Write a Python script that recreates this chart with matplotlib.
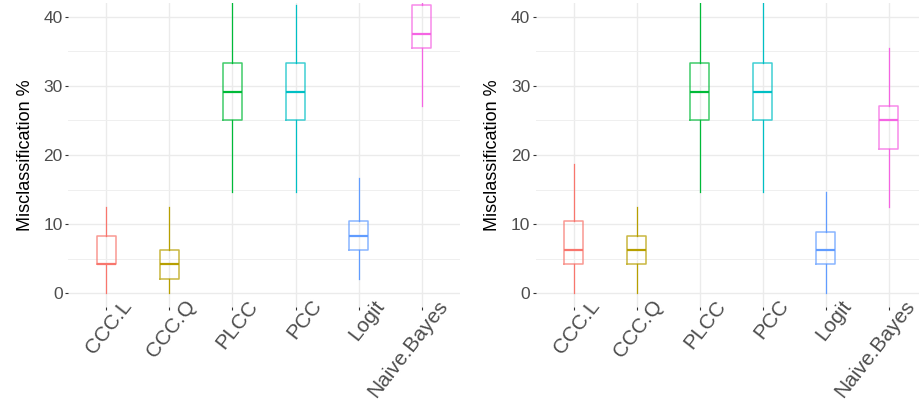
import matplotlib.pyplot as plt
from matplotlib.ticker import MultipleLocator
import matplotlib.transforms as mtransforms

plt.rcParams['font.family'] = ['Liberation Sans', 'DejaVu Sans']

methods = ['CCC.L', 'CCC.Q', 'PLCC', 'PCC', 'Logit', 'Naive.Bayes']
colors = ['#F8766D', '#B79F00', '#00BA38', '#00BFC4', '#619CFF', '#F564E3']

# left panel: misclassification % summary (whisker low, q1, median, q3, whisker high)
left_lo = [0.0, 0.0, 14.58, 14.58, 2.08, 27.08]
left_q1 = [4.17, 2.08, 25.0, 25.0, 6.25, 35.42]
left_med = [4.17, 4.17, 29.17, 29.17, 8.33, 37.5]
left_q3 = [8.33, 6.25, 33.33, 33.33, 10.42, 41.67]
left_hi = [12.5, 12.5, 45.83, 41.67, 16.67, 45.83]

# right panel
right_lo = [0.0, 0.0, 14.58, 14.58, 0.0, 12.5]
right_q1 = [4.17, 4.17, 25.0, 25.0, 4.17, 20.83]
right_med = [6.25, 6.25, 29.17, 29.17, 6.25, 25.0]
right_q3 = [10.42, 8.33, 33.33, 33.33, 8.85, 27.08]
right_hi = [18.75, 12.5, 45.83, 45.83, 14.58, 35.42]


def draw_panel(ax, lo, q1, med, q3, hi):
    stats = []
    for i in range(len(methods)):
        stats.append({'whislo': lo[i], 'q1': q1[i], 'med': med[i],
                      'q3': q3[i], 'whishi': hi[i], 'fliers': []})
    pos = list(range(1, len(methods) + 1))
    art = ax.bxp(stats, positions=pos, widths=0.3, showcaps=False,
                 showfliers=False, patch_artist=False)
    for i, c in enumerate(colors):
        art['boxes'][i].set_color(c)
        art['boxes'][i].set_alpha(0.75)
        art['boxes'][i].set_linewidth(1.1)
        art['medians'][i].set_color(c)
        art['medians'][i].set_linewidth(1.6)
        for w in art['whiskers'][2 * i:2 * i + 2]:
            w.set_color(c)
            w.set_linewidth(0.9)
    ax.set_xlim(0.4, 6.6)
    ax.set_ylim(-2, 42)
    ax.yaxis.set_major_locator(MultipleLocator(10))
    ax.yaxis.set_minor_locator(MultipleLocator(5))
    ax.set_xticks(pos)
    ax.tick_params(axis='both', which='major', length=2.5, width=0.8,
                   color='#333333', labelcolor='#4D4D4D')
    ax.tick_params(axis='y', labelsize=12.5, pad=1.5)
    ax.tick_params(axis='both', which='minor', length=0)
    ax.set_xticklabels(methods, rotation=52, ha='right', va='center',
                       rotation_mode='anchor', fontsize=15, color='#4D4D4D')
    # shift the rotated labels like ggplot's hjust=1 placement
    off = mtransforms.ScaledTranslation(0.22, 0.13, ax.figure.dpi_scale_trans)
    for lab in ax.get_xticklabels():
        lab.set_transform(lab.get_transform() + off)
    ax.grid(True, which='major', color='#EBEBEB', linewidth=1.0)
    ax.grid(True, which='minor', axis='y', color='#EFEFEF', linewidth=0.7)
    ax.set_axisbelow(True)
    for s in ax.spines.values():
        s.set_visible(False)
    ax.set_ylabel('Misclassification %', fontsize=13, color='black', labelpad=7)


fig = plt.figure(figsize=(9.19, 4.0), dpi=100)
ax1 = fig.add_axes([68.4 / 919, 93 / 400, 391.2 / 919, 304 / 400])
ax2 = fig.add_axes([535.9 / 919, 93 / 400, 390.6 / 919, 304 / 400])
draw_panel(ax1, left_lo, left_q1, left_med, left_q3, left_hi)
draw_panel(ax2, right_lo, right_q1, right_med, right_q3, right_hi)

fig.savefig('out.png', dpi=100)
